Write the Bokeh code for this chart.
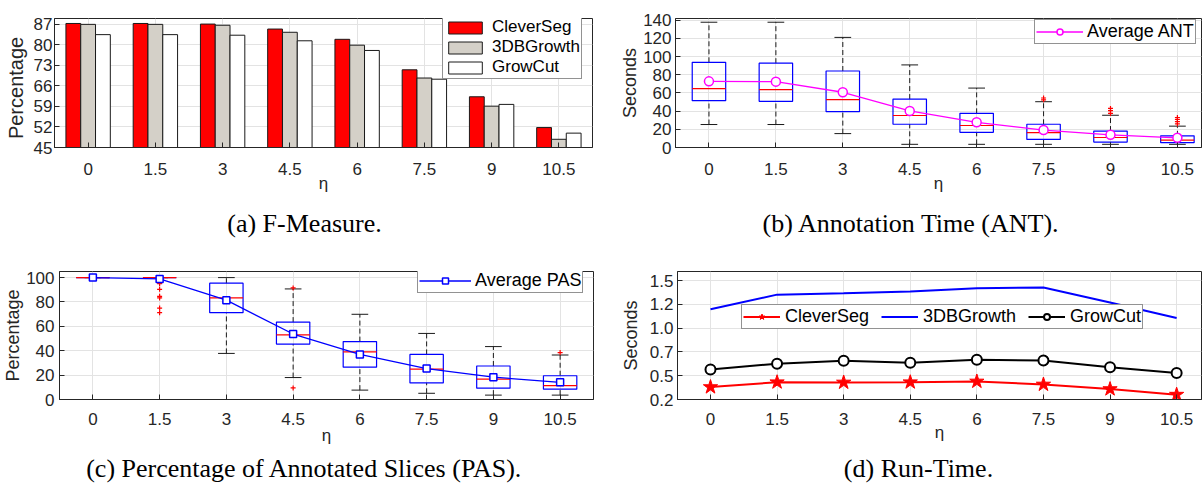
from bokeh.plotting import figure
from bokeh.models import FixedTicker, Range1d, Label, Legend, LegendItem
from bokeh.layouts import row, column
from bokeh.embed import file_html
from bokeh.resources import INLINE
import math

# ---------------- data ----------------
eta = [0, 1.5, 3, 4.5, 6, 7.5, 9, 10.5]
eta_labels = ["0", "1.5", "3", "4.5", "6", "7.5", "9", "10.5"]

# (a) F-Measure (percentage)
fm_cleverseg = [87.3, 87.3, 87.1, 85.4, 81.9, 71.5, 62.3, 51.8]
fm_3dbgrowth = [87.0, 87.0, 86.7, 84.3, 79.9, 68.7, 59.1, 47.8]
fm_growcut = [83.5, 83.5, 83.3, 81.4, 78.1, 68.3, 59.7, 49.9]
fm_ticks = [45, 52, 59, 66, 73, 80, 87]

# (b) Annotation time (seconds) box plots
ant_q1 = [51.5, 50.8, 39.4, 25.6, 16.7, 8.9, 6.0, 5.3]
ant_q3 = [93.8, 92.8, 84.2, 53.3, 37.6, 25.6, 18.1, 12.8]
ant_median = [64.7, 63.6, 52.6, 35.2, 24.2, 16.3, 11.0, 8.2]
ant_whisker_lo = [25.3, 25.3, 15.3, 3.5, 3.5, 3.5, 3.5, 3.5]
ant_whisker_hi = [137.9, 137.9, 121.2, 90.9, 65.4, 50.4, 35.5, 23.5]
ant_mean = [72.8, 72.5, 60.8, 40.2, 27.7, 19.2, 13.9, 10.7]
ant_outlier_eta = [7.5, 7.5, 9, 9, 9, 10.5, 10.5, 10.5, 10.5]
ant_outlier_val = [52.5, 54.5, 37.5, 40.5, 43.0, 26.0, 28.5, 31.0, 33.0]
ant_ticks = [0, 20, 40, 60, 80, 100, 120, 140]

# (c) Percentage of annotated slices box plots
pas_q1 = [100, 100, 71.2, 45.5, 26.5, 13.6, 9.3, 8.5]
pas_q3 = [100, 100, 95.4, 63.5, 47.5, 37.0, 27.5, 19.5]
pas_median = [100, 100, 83.3, 53.0, 39.1, 24.9, 16.7, 11.3]
pas_whisker_lo = [100, 100, 37.8, 18.0, 7.7, 5.1, 3.6, 3.6]
pas_whisker_hi = [100, 100, 100, 90.7, 69.9, 54.2, 43.4, 36.5]
pas_mean = [100, 98.9, 81.5, 53.7, 37.0, 25.4, 18.3, 14.1]
pas_outlier_eta = [1.5, 1.5, 1.5, 1.5, 1.5, 1.5, 1.5, 4.5, 4.5, 10.5]
pas_outlier_val = [97.0, 95.0, 90.4, 84.6, 83.3, 75.0, 71.2, 91.5, 9.5, 38.5]
pas_ticks = [0, 20, 40, 60, 80, 100]

# (d) Run-time (seconds)
rt_cleverseg = [0.336, 0.389, 0.386, 0.389, 0.397, 0.364, 0.314, 0.253]
rt_3dbgrowth = [1.187, 1.347, 1.361, 1.380, 1.418, 1.425, 1.262, 1.091]
rt_growcut = [0.528, 0.592, 0.624, 0.603, 0.635, 0.627, 0.553, 0.489]
rt_ticks = [0.2, 0.46, 0.72, 0.98, 1.24, 1.5]
rt_tick_labels = ["0.2", "0.5", "0.7", "1.0", "1.2", "1.5"]

captions = ["(a) F-Measure.", "(b) Annotation Time (ANT).",
            "(c) Percentage of Annotated Slices (PAS).", "(d) Run-Time."]

# ---------------- styling helpers ----------------
AX = "#262626"
GRID = "#e3e3e3"
SANS = "Liberation Sans"
SERIF = "Liberation Serif"
TICK_FS = "17px"
RED = "#ff0000"
BLUE = "#0000ff"
MAGENTA = "#ff00ff"
GRAYBAR = "#d4d0c8"


def make_fig(width, height, bl, br, bt, bb, xr, yr, yticks, ylabels,
             ylabel, ylabel_fs, ystand, ylab_standoff, xstand, eta_standoff):
    p = figure(width=width, height=height, title=None,
               x_range=Range1d(*xr), y_range=Range1d(*yr),
               min_border_left=bl, min_border_right=br,
               min_border_top=bt, min_border_bottom=bb,
               toolbar_location=None, tools="", output_backend="svg")
    p.outline_line_color = AX
    p.outline_line_width = 1
    p.background_fill_color = "white"
    p.border_fill_color = "white"
    xt = FixedTicker(ticks=eta)
    yt = FixedTicker(ticks=yticks)
    for ax in p.xaxis:
        ax.ticker = xt
        ax.major_label_overrides = dict(zip(eta, eta_labels))
        ax.major_label_text_font = SANS
        ax.major_label_text_font_size = TICK_FS
        ax.major_label_text_color = AX
        ax.major_label_standoff = xstand
        ax.major_tick_in = 5
        ax.major_tick_out = 0
        ax.major_tick_line_color = AX
        ax.minor_tick_line_color = None
        ax.axis_line_color = AX
        ax.axis_label = "η"
        ax.axis_label_text_font = SANS
        ax.axis_label_text_font_style = "normal"
        ax.axis_label_text_font_size = "17px"
        ax.axis_label_text_color = AX
        ax.axis_label_standoff = eta_standoff
    for ax in p.yaxis:
        ax.ticker = yt
        ax.major_label_overrides = dict(zip(yticks, ylabels))
        ax.major_label_text_font = SANS
        ax.major_label_text_font_size = TICK_FS
        ax.major_label_text_color = AX
        ax.major_label_standoff = ystand
        ax.major_tick_in = 5
        ax.major_tick_out = 0
        ax.major_tick_line_color = AX
        ax.minor_tick_line_color = None
        ax.axis_line_color = AX
        if ylabel:
            ax.axis_label = ylabel
            ax.axis_label_text_font = SANS
            ax.axis_label_text_font_style = "normal"
            ax.axis_label_text_font_size = ylabel_fs
            ax.axis_label_text_color = AX
            ax.axis_label_standoff = ylab_standoff
    p.xgrid.ticker = xt
    p.ygrid.ticker = yt
    p.xgrid.grid_line_color = GRID
    p.ygrid.grid_line_color = GRID
    return p


def text_strip(width, height):
    """A plain drawing area whose data units equal its pixels (y up)."""
    p = figure(width=width, height=height, title=None, x_range=Range1d(0, width),
               y_range=Range1d(0, height), min_border=0, x_axis_type=None,
               y_axis_type=None, toolbar_location=None, tools="",
               output_backend="svg")
    p.outline_line_color = None
    p.grid.visible = False
    p.background_fill_color = "white"
    p.border_fill_color = "white"
    return p


def style_legend(lg, fs, gw, gh, standoff, pad, spacing, loc):
    lg.label_text_font = SANS
    lg.label_text_font_size = fs
    lg.label_text_color = "black"
    lg.glyph_width = gw
    lg.glyph_height = gh
    lg.label_standoff = standoff
    lg.label_height = 16
    lg.padding = pad
    lg.spacing = spacing
    lg.margin = 0
    lg.border_line_color = AX
    lg.border_line_width = 1
    lg.background_fill_color = "white"
    lg.background_fill_alpha = 1
    lg.location = loc


def boxplot(p, q1, q3, med, wlo, whi, ox, oy, box_w=0.75, cap_w=0.375):
    p.segment(x0=eta, y0=q3, x1=eta, y1=whi, line_color="#1a1a1a", line_dash="5 3", line_width=1)
    p.segment(x0=eta, y0=wlo, x1=eta, y1=q1, line_color="#1a1a1a", line_dash="5 3", line_width=1)
    p.segment(x0=[e - cap_w / 2 for e in eta], y0=whi, x1=[e + cap_w / 2 for e in eta], y1=whi,
              line_color="#1a1a1a", line_width=1)
    p.segment(x0=[e - cap_w / 2 for e in eta], y0=wlo, x1=[e + cap_w / 2 for e in eta], y1=wlo,
              line_color="#1a1a1a", line_width=1)
    p.quad(left=[e - box_w / 2 for e in eta], right=[e + box_w / 2 for e in eta],
           bottom=q1, top=q3, fill_color=None, line_color=BLUE, line_width=1.2)
    p.segment(x0=[e - box_w / 2 for e in eta], y0=med, x1=[e + box_w / 2 for e in eta], y1=med,
              line_color=RED, line_width=1.2)
    p.scatter(ox, oy, marker="cross", size=5, line_color=RED, line_width=1.2)


def caption_label(text, x, y):
    return Label(x=x, y=y, text=text, text_font=SERIF, text_font_size="26px",
                 text_color="black", text_align="center", text_baseline="middle")


# layout rows (pixels): row1 0-208, captions 208-245, row2 245-453, captions 453-485
ROW1_H, CAP1_H, ROW2_H, CAP2_H = 208, 37, 208, 32

# ---------------- (a) F-Measure ----------------
ylab_a = text_strip(30, ROW1_H)
ylab_a.add_layout(Label(x=15.5, y=ROW1_H - 112, angle=math.pi / 2, text="Percentage",
                        text_font=SANS, text_font_size="20px", text_color=AX,
                        text_align="center", text_baseline="middle"))

fa = make_fig(573, ROW1_H, 24, 11, 18, 57, (-0.75, 11.25), (45, 89), fm_ticks,
              [str(t) for t in fm_ticks], None, None, 2, 0, 15, -4)
bw = 0.33
ra1 = fa.vbar(x=[e - bw for e in eta], top=fm_cleverseg, bottom=fa.y_range.start, width=bw,
              fill_color=RED, line_color="#1a1a1a", line_width=1)
ra2 = fa.vbar(x=eta, top=fm_3dbgrowth, bottom=fa.y_range.start, width=bw,
              fill_color=GRAYBAR, line_color="#1a1a1a", line_width=1)
ra3 = fa.vbar(x=[e + bw for e in eta], top=fm_growcut, bottom=fa.y_range.start, width=bw,
              fill_color="white", line_color="#1a1a1a", line_width=1)
lga = Legend(items=[LegendItem(label="CleverSeg", renderers=[ra1]),
                    LegendItem(label="3DBGrowth", renderers=[ra2]),
                    LegendItem(label="GrowCut", renderers=[ra3])])
style_legend(lga, "17px", 42, 15, 6, 1, 0, (388, 68))
fa.add_layout(lga, "center")

# ---------------- (b) Annotation time ----------------
fb = make_fig(600, ROW1_H, 72, 2, 14, 61, (-0.75, 11.04), (0, 142), ant_ticks,
              [str(t) for t in ant_ticks], "Seconds", "18px", 4, 0, 15, -4)
boxplot(fb, ant_q1, ant_q3, ant_median, ant_whisker_lo, ant_whisker_hi,
        ant_outlier_eta, ant_outlier_val)
lb = fb.line(eta, ant_mean, line_color=MAGENTA, line_width=1.3)
sb = fb.scatter(eta, ant_mean, marker="circle", size=9, fill_color="white",
                line_color=MAGENTA, line_width=1.5)
lgb = Legend(items=[LegendItem(label="Average ANT", renderers=[lb, sb])])
style_legend(lgb, "18px", 47, 15, 4, 1, 0, (359, 103))
fb.add_layout(lgb, "center")

# ---------------- captions row 1 ----------------
cap1 = text_strip(1203, CAP1_H)
cap1.add_layout(caption_label(captions[0], 304, CAP1_H - 15))
cap1.add_layout(caption_label(captions[1], 911, CAP1_H - 15))

# ---------------- (c) PAS ----------------
fc = make_fig(603, ROW2_H, 59, 10, 18, 54, (-0.75, 11.25), (0, 105), pas_ticks,
              [str(t) for t in pas_ticks], "Percentage", "18px", 5, 0, 13, -2)
boxplot(fc, pas_q1, pas_q3, pas_median, pas_whisker_lo, pas_whisker_hi,
        pas_outlier_eta, pas_outlier_val)
lc = fc.line(eta, pas_mean, line_color=BLUE, line_width=1.3)
sc = fc.scatter(eta, pas_mean, marker="square", size=7, fill_color="white",
                line_color=BLUE, line_width=1.5)
lgc = Legend(items=[LegendItem(label="Average PAS", renderers=[lc, sc])])
style_legend(lgc, "18px", 52, 15, 4, 1, 0, (358, 106))
fc.add_layout(lgc, "center")

# ---------------- (d) Run-time ----------------
fd = make_fig(600, ROW2_H, 74, 2, 26, 51, (-0.743, 11.06), (0.2, 1.6), rt_ticks,
              rt_tick_labels, "Seconds", "18px", 4, 6, 13, -5)
l1 = fd.line(eta, rt_cleverseg, line_color=RED, line_width=2)
s1 = fd.scatter(eta, rt_cleverseg, marker="star", size=15, fill_color=RED,
                line_color=RED, line_width=1)
l2 = fd.line(eta, rt_3dbgrowth, line_color=BLUE, line_width=2)
l3 = fd.line(eta, rt_growcut, line_color="black", line_width=2)
s3 = fd.scatter(eta, rt_growcut, marker="circle", size=10, fill_color="white",
                line_color="black", line_width=2)
lgd = Legend(items=[LegendItem(label="CleverSeg", renderers=[l1, s1]),
                    LegendItem(label="3DBGrowth", renderers=[l2]),
                    LegendItem(label="GrowCut", renderers=[l3, s3])],
             orientation="horizontal")
style_legend(lgd, "18px", 37, 15, 5, 1, 12, (64, 70))
fd.add_layout(lgd, "center")

# ---------------- captions row 2 ----------------
cap2 = text_strip(1203, CAP2_H)
cap2.add_layout(caption_label(captions[2], 304, CAP2_H - 15))
cap2.add_layout(caption_label(captions[3], 918, CAP2_H - 15))

layout = column(row(ylab_a, fa, fb), cap1, row(fc, fd), cap2)
open("out.html", "w").write(file_html(layout, INLINE))
